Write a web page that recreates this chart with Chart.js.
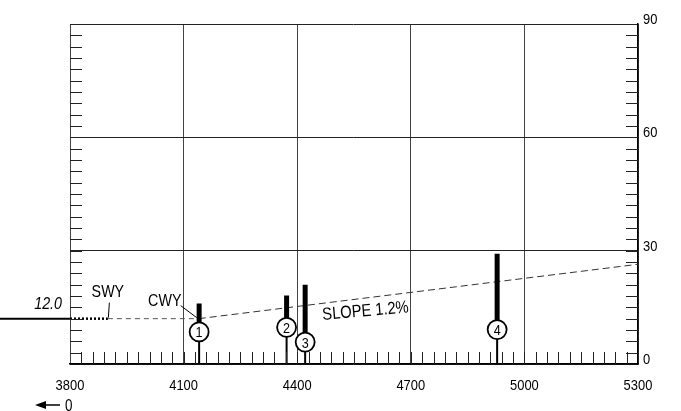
<!DOCTYPE html>
<html>
<head>
<meta charset="utf-8">
<script src="https://cdn.jsdelivr.net/npm/chart.js@4.4.1/dist/chart.umd.min.js"></script>
<style>
  html, body { margin: 0; padding: 0; background: #fff; overflow: hidden; }
  canvas { display: block; }
</style>
</head>
<body>
<canvas id="c" width="681" height="411"></canvas>
<script>
// ---- data ----
const xTicks = [3800, 4100, 4400, 4700, 5000, 5300];
const yTicks = [0, 30, 60, 90];
const runwayElev = 12.0;
const runwayLine = [[3615, 12.0], [3800, 12.0]];
const swyLine = [[3800, 12.0], [3900, 12.0]];
const cwyLine = [[3900, 12.0], [4140, 12.0]];
const slopeLine = [[4140, 12.0], [5300, 26.4]];
const obstacleIds = ['1', '2', '3', '4'];
const obstacleDist = [4141, 4372, 4421, 4928];
const obstacleHeight = [16.0, 18.1, 21.0, 29.2];
const obstacleLabelElev = [8.5, 9.7, 5.8, 9.1];

const FONT = "'Liberation Sans', Arial, sans-serif";
const NARROW = 0.84;

const pts = a => a.map(p => ({x: p[0], y: p[1]}));
const thickData = [], stemData = [], circleData = [];
obstacleDist.forEach((d, i) => {
  thickData.push({x: d, y: obstacleHeight[i]}, {x: d, y: obstacleLabelElev[i]}, {x: d, y: null});
  stemData.push({x: d, y: obstacleLabelElev[i]}, {x: d, y: 0}, {x: d, y: null});
  circleData.push({x: d, y: obstacleLabelElev[i], id: obstacleIds[i]});
});

function txt(ctx, s, x, y, size, align, baseline, italic, angle) {
  ctx.save();
  ctx.translate(x, y);
  if (angle) ctx.rotate(angle * Math.PI / 180);
  ctx.scale(NARROW, 1);
  ctx.font = (italic ? 'italic ' : '') + size + 'px ' + FONT;
  ctx.textAlign = align || 'center';
  ctx.textBaseline = baseline || 'alphabetic';
  ctx.fillStyle = '#000';
  ctx.fillText(s, 0, 0);
  ctx.restore();
}

const decor = {
  id: 'decor',
  afterDatasetsDraw(chart) {
    const ctx = chart.ctx, xs = chart.scales.x, ys = chart.scales.y, a = chart.chartArea;
    ctx.save();
    // minor ticks
    ctx.strokeStyle = '#222';
    ctx.lineWidth = 1;
    ctx.beginPath();
    for (let v = 3; v < 90; v += 3) {
      const y = Math.round(ys.getPixelForValue(v)) + 0.5;
      ctx.moveTo(a.left, y); ctx.lineTo(a.left + 12, y);
      ctx.moveTo(a.right - 12, y); ctx.lineTo(a.right, y);
    }
    for (let v = 3830; v < 5300; v += 30) {
      const x = Math.round(xs.getPixelForValue(v)) + 0.5;
      ctx.moveTo(x, a.bottom); ctx.lineTo(x, a.bottom - 12);
    }
    ctx.stroke();
    ctx.restore();

    // axis tick labels (from the scales' ticks)
    xs.ticks.forEach(t => txt(ctx, String(t.value), xs.getPixelForValue(t.value), a.bottom + 26, 15.4, 'center'));
    ys.ticks.forEach(t => txt(ctx, String(t.value), a.right + 5, ys.getPixelForValue(t.value), 15.4, 'left'));

    // circle numbers
    circleData.forEach(p => {
      txt(ctx, p.id, xs.getPixelForValue(p.x), ys.getPixelForValue(p.y) + 5.5, 15, 'center');
    });

    const ry = ys.getPixelForValue(runwayElev);
    const x38 = xs.getPixelForValue(3800);
    const x39 = xs.getPixelForValue(3900);
    const xc = xs.getPixelForValue(cwyLine[1][0]);

    // 12.0 label
    txt(ctx, runwayElev.toFixed(1), x38 - 8, ry - 10, 17, 'right', 'alphabetic', true);

    // SWY
    txt(ctx, 'SWY', x39, ry - 22, 17, 'center');
    ctx.save();
    ctx.strokeStyle = '#000';
    ctx.lineWidth = 1;
    ctx.beginPath();
    ctx.moveTo(x39 + 1.5, ry - 16); ctx.lineTo(x39 + 0.5, ry - 1);
    ctx.stroke();

    // CWY
    ctx.beginPath();
    ctx.moveTo(xc - 18, ry - 13); ctx.lineTo(xc - 2, ry - 1);
    ctx.stroke();
    ctx.restore();
    txt(ctx, 'CWY', xc - 34, ry - 13, 17, 'center');

    // SLOPE text
    const sx = (xs.getPixelForValue(4400) + xs.getPixelForValue(4700)) / 2 + 12;
    const sy = ys.getPixelForValue(12 + (4600 - 4140) * 0.0124) + 19;
    txt(ctx, 'SLOPE 1.2%', sx, sy, 17.5, 'center', 'alphabetic', false, -5);

    // arrow with 0
    ctx.save();
    const ay = a.bottom + 41;
    const tip = x38 - 35;
    ctx.fillStyle = '#000';
    ctx.strokeStyle = '#000';
    ctx.lineWidth = 1.5;
    ctx.beginPath();
    ctx.moveTo(tip, ay); ctx.lineTo(tip + 11, ay - 4); ctx.lineTo(tip + 11, ay + 4); ctx.closePath();
    ctx.fill();
    ctx.beginPath();
    ctx.moveTo(tip + 10, ay); ctx.lineTo(tip + 25, ay);
    ctx.stroke();
    ctx.restore();
    txt(ctx, '0', tip + 30, ay + 5.5, 16, 'left');
  }
};

const gridCol = '#444';

new Chart(document.getElementById('c'), {
  type: 'scatter',
  data: {
    datasets: [
      { label: 'circles', data: circleData, showLine: false, pointRadius: 9.5, pointHoverRadius: 9.5,
        pointBackgroundColor: '#fff', pointBorderColor: '#000', pointBorderWidth: 1.8 },
      { label: 'thick', data: thickData, showLine: true, spanGaps: false, borderColor: '#000',
        borderWidth: 5, pointRadius: 0, borderCapStyle: 'butt' },
      { label: 'stem', data: stemData, showLine: true, spanGaps: false, borderColor: '#000',
        borderWidth: 2, pointRadius: 0 },
      { label: 'runway', data: pts(runwayLine), showLine: true, borderColor: '#000', borderWidth: 2,
        pointRadius: 0, clip: false },
      { label: 'swy', data: pts(swyLine), showLine: true, borderColor: '#000', borderWidth: 2.5,
        borderDash: [2, 2], pointRadius: 0 },
      { label: 'cwy', data: pts(cwyLine), showLine: true, borderColor: '#555', borderWidth: 1,
        borderDash: [5, 4], pointRadius: 0 },
      { label: 'slope', data: pts(slopeLine), showLine: true, borderColor: '#333', borderWidth: 1,
        borderDash: [7, 4], pointRadius: 0 }
    ]
  },
  options: {
    responsive: false,
    animation: false,
    devicePixelRatio: 1,
    layout: { padding: { left: 70, top: 24, right: 0, bottom: 0 } },
    plugins: { legend: { display: false }, tooltip: { enabled: false } },
    scales: {
      x: {
        type: 'linear', min: 3800, max: 5300,
        afterBuildTicks: s => { s.ticks = xTicks.map(v => ({value: v})); },
        afterFit: s => { s.height = 47; },
        grid: { color: gridCol, lineWidth: 1, drawTicks: false },
        border: { color: '#000', width: 1.5 },
        ticks: { display: false, autoSkip: false }
      },
      y: {
        type: 'linear', position: 'right', min: 0, max: 90,
        afterBuildTicks: s => { s.ticks = yTicks.map(v => ({value: v})); },
        afterFit: s => { s.width = 43; },
        grid: { color: '#222', lineWidth: 1, drawTicks: false },
        border: { color: '#000', width: 1.5 },
        ticks: { display: false, autoSkip: false }
      }
    }
  },
  plugins: [decor]
});
</script>
</body>
</html>
